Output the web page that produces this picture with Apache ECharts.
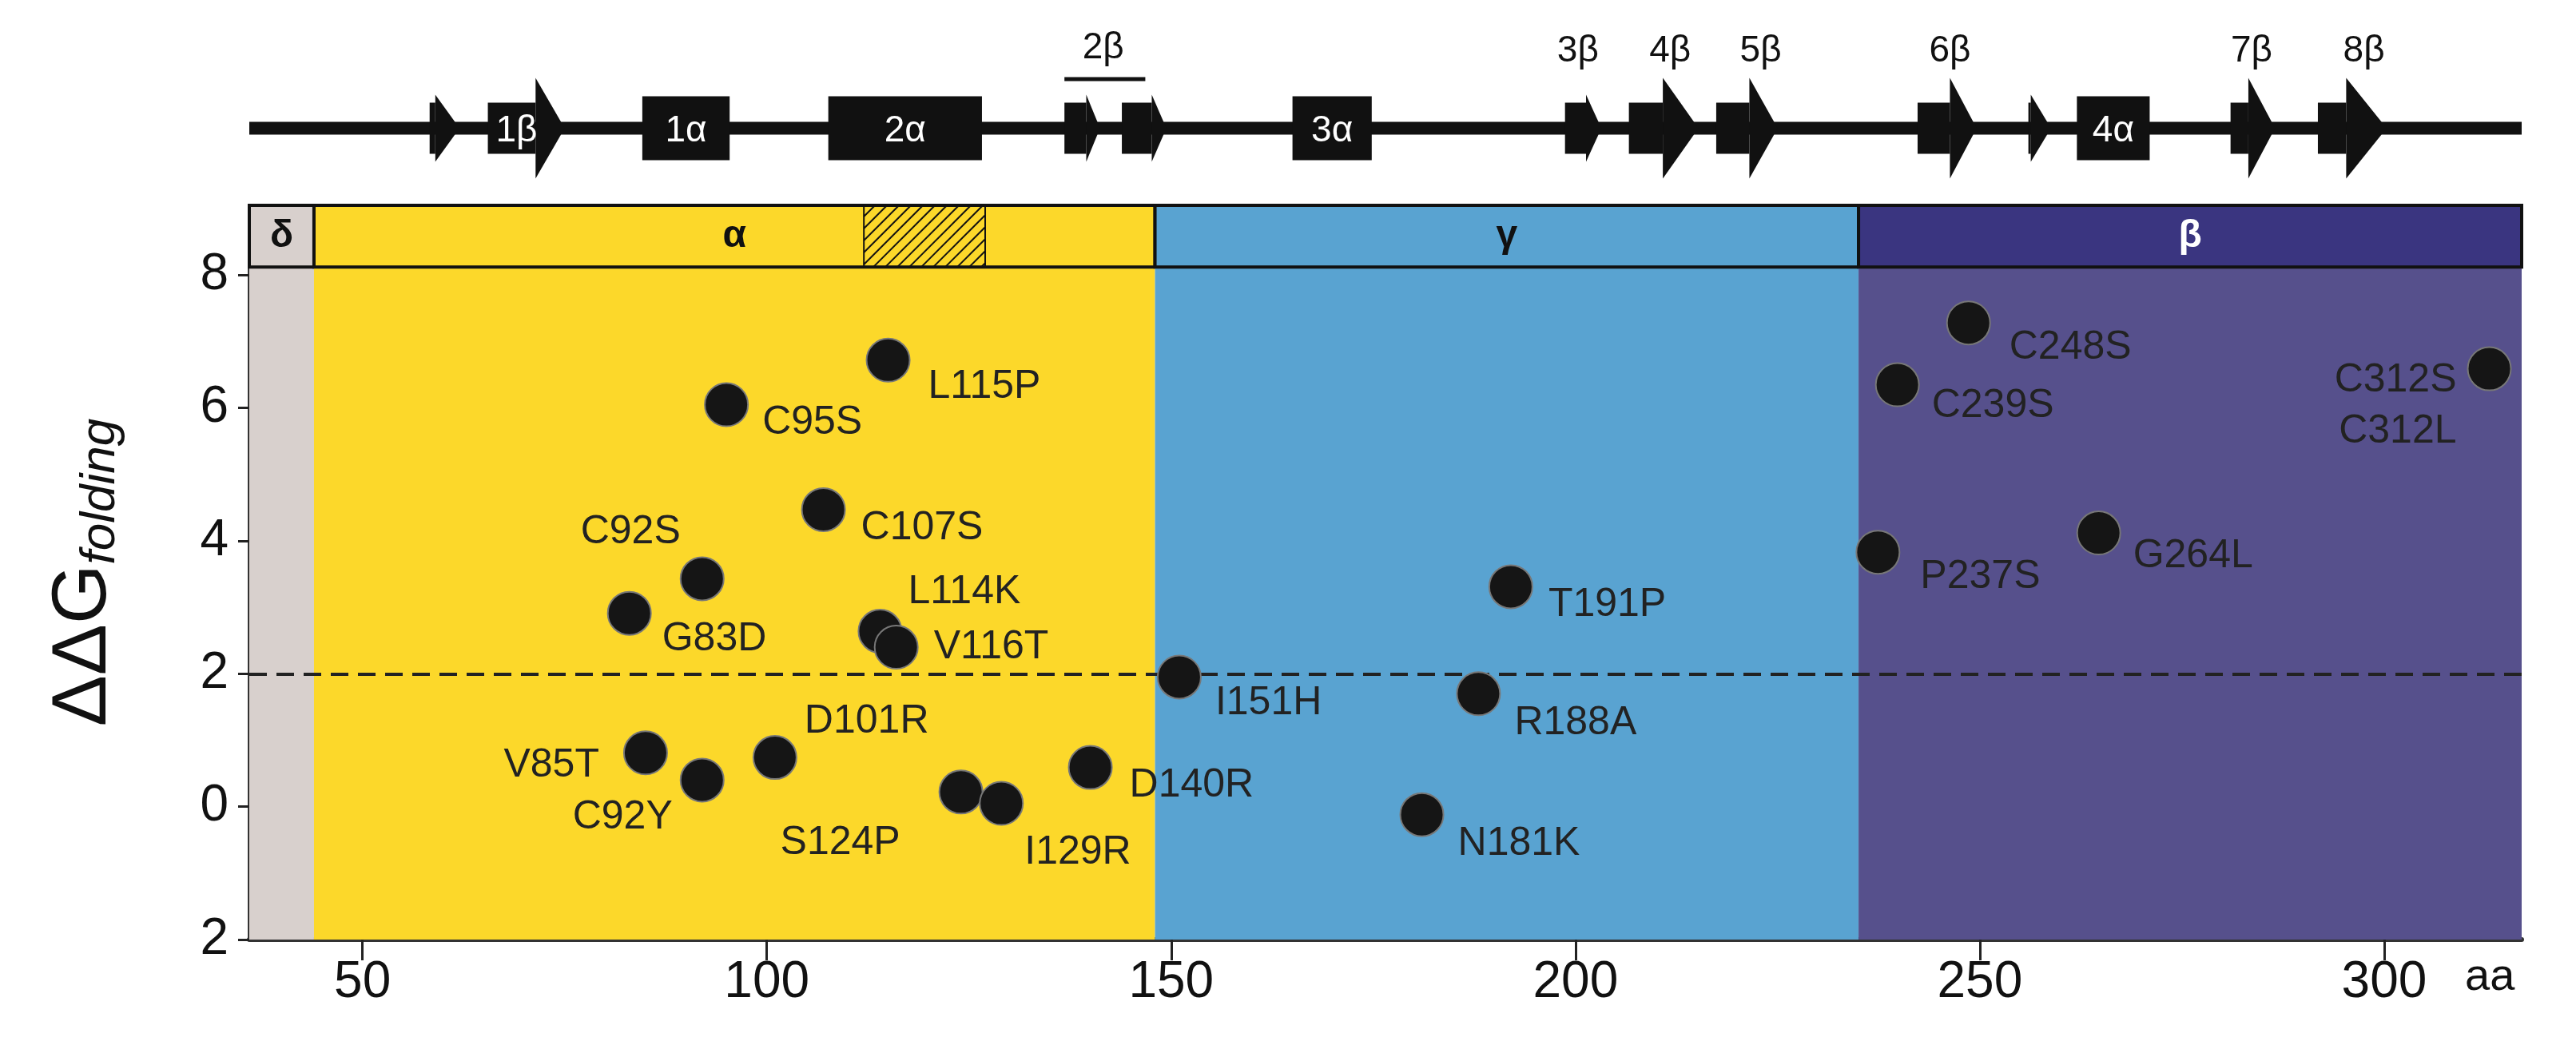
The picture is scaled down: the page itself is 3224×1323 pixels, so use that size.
<!DOCTYPE html>
<html><head><meta charset="utf-8">
<script src="https://cdn.jsdelivr.net/npm/echarts@6/dist/echarts.min.js"></script>
<style>html,body{margin:0;padding:0;background:#fff}#c{width:3224px;height:1323px}</style>
</head><body><div id="c"></div>
<script>
// ---- data ----
const mutNames = ['L115P','C95S','C107S','C92S','G83D','L114K','V116T','V85T','C92Y','D101R','S124P','I129R','D140R','I151H','R188A','T191P','N181K','C248S','C239S','C312S\nC312L','P237S','G264L'];
const mutX = [115,95,107,92,83,114,116,85,92,101,124,129,140,151,188,192,181,248.6,239.8,313,237.4,264.7];
const mutY = [6.72,6.05,4.47,3.43,2.91,2.64,2.40,0.81,0.40,0.74,0.22,0.05,0.59,1.95,1.70,3.31,-0.12,7.28,6.35,6.59,3.83,4.12];
const domainNames = ['δ','α','γ','β'];
const domainStart = [36,44,148,235];
const domainEnd = [44,148,235,317];
const hatchRange = [112,127];
const threshold = 2;
const xTicks = [50,100,150,200,250,300];
const xMinorTicks = [40,60,70,80,90,110,120,130,140,160,170,180,190,210,220,230,240,260,270,280,290,310];
const yTicks = [-2,0,2,4,6,8];
// secondary structure: type, start, headStart, end, label
const ssType  = ['s','s','h','h','s','s','h','s','s','s','s','s','h','s','s'];
const ssStart = [58.3,65.5,84.6,107.6,136.8,143.9,165,198.7,206.6,217.4,242.3,256,262,281,291.8];
const ssHead  = [59,71.4,0,0,139.5,147.6,0,201.3,210.8,221.5,246.3,256.3,0,283.2,295.3];
const ssEnd   = [62,75,95.4,126.6,141.2,149.4,174.8,203.2,215.2,225,249.6,258.8,271,286.5,300.3];
const ssLabel = ['','1β','1α','2α','','','3α','','','','','','4α','',''];
const ssBig   = [0,1,0,0,0,0,0,0,1,1,1,0,0,1,1];
const topLabels = ['2β','3β','4β','5β','6β','7β','8β'];
const topLabelX = [141.6,200.3,211.7,222.9,246.3,283.6,297.5];

// ---- style ----
const domainFill = ['#d8d0cd','#fcd82a','#59a3d1','#56508c'];
const barFill = ['#d8d0cd','#fcd82a','#59a3d1','#3a3580'];
const barText = ['#111','#111','#111','#fff'];
const labelDx = [50,45,47,-27,41,35,47,-58,-37,37,-76,29,49,45,45,47,45,51,43,-41,53,43];
const labelDy = [33,23,23,-58,33,-49,0,16,47,-45,64,62,23,33,37,23,37,31,27,47,31,29];
const FONT = 'Liberation Sans, Arial, sans-serif';
const BAR_LO = 8.12, YMAX = 9.05;

const chart = echarts.init(document.getElementById('c'));
const gridL = 312, gridR = 3224-3156;

function bgRender(params, api){
  const i = api.value(0);
  const s = api.value(1), e = api.value(2);
  const p0 = api.coord([s, BAR_LO]), p1 = api.coord([e, -2]);
  const t0 = api.coord([s, YMAX]);
  const children = [
    {type:'rect', shape:{x:p0[0], y:p0[1], width:p1[0]-p0[0], height:p1[1]-p0[1]}, style:{fill:domainFill[i]}},
    {type:'rect', shape:{x:t0[0], y:t0[1], width:p1[0]-p0[0], height:p0[1]-t0[1]}, style:{fill:barFill[i], stroke:'#111', lineWidth:4}},
    {type:'text', style:{x:(p0[0]+p1[0])/2, y:(t0[1]+p0[1])/2, text:domainNames[i], fill:barText[i], font:'bold 48px '+FONT, align:'center', verticalAlign:'middle'}}
  ];
  if (i === 1){
    const a = api.coord([hatchRange[0], YMAX]), b = api.coord([hatchRange[1], BAR_LO]);
    const x0=a[0], y0=a[1], x1=b[0], y1=b[1];
    children.splice(2,0,{type:'rect', shape:{x:x0,y:y0,width:x1-x0,height:y1-y0}, style:{fill:'none', stroke:'#111', lineWidth:2}});
    for (let c = x0+y0+14; c < x1+y1; c += 15){
      const pa = Math.max(x0, c-y1), pb = Math.min(x1, c-y0);
      if (pb > pa) children.push({type:'line', shape:{x1:pa,y1:c-pa,x2:pb,y2:c-pb}, style:{stroke:'#111', lineWidth:2}});
    }
  }
  return {type:'group', children};
}

function ptRender(params, api){
  const i = api.value(0);
  const p = api.coord([api.value(1), api.value(2)]);
  const dx = labelDx[i], dy = labelDy[i];
  return {type:'group', children:[
    {type:'circle', shape:{cx:p[0], cy:p[1], r:27}, style:{fill:'#151515', stroke:'#777', lineWidth:2}},
    {type:'text', style:{x:p[0]+dx, y:p[1]+dy, text:mutNames[i], fill:'#222', font:'50px '+FONT, align: dx<0?'right':'left', verticalAlign:'middle', lineHeight:64}}
  ]};
}

function ssRender(params, api){
  const i = api.value(0);
  const c = api.coord([ssStart[i], 0])[1];
  const xs = api.coord([ssStart[i],0])[0], xe = api.coord([ssEnd[i],0])[0];
  const ch = [];
  if (ssType[i] === 'h'){
    ch.push({type:'rect', shape:{x:xs, y:c-40, width:xe-xs, height:80}, style:{fill:'#111'}});
  } else {
    const xh = api.coord([ssHead[i],0])[0];
    const hh = ssBig[i] ? 63 : 42;
    ch.push({type:'rect', shape:{x:xs, y:c-32, width:xh-xs, height:64}, style:{fill:'#111'}});
    ch.push({type:'polygon', shape:{points:[[xh,c-hh],[xe,c],[xh,c+hh]]}, style:{fill:'#111'}});
  }
  if (ssLabel[i]) {
    const lx = ssType[i]==='h' ? (xs+xe)/2 : (xs + api.coord([ssHead[i],0])[0])/2 + 6;
    ch.push({type:'text', style:{x:lx, y:c+4, text:ssLabel[i], fill:'#fff', font:'46px '+FONT, align:'center', verticalAlign:'middle'}});
  }
  return {type:'group', children:ch};
}

function lineRender(params, api){
  const a = api.coord([36,0]), b = api.coord([317,0]);
  return {type:'rect', shape:{x:a[0], y:a[1]-8, width:b[0]-a[0], height:16}, style:{fill:'#111'}};
}
function topLabelRender(params, api){
  const i = api.value(0);
  const p = api.coord([topLabelX[i], 0]);
  const ch = [{type:'text', style:{x:p[0], y:p[1]-96, text:topLabels[i], fill:'#111', font:'46px '+FONT, align:'center', verticalAlign:'middle'}}];
  if (i === 0){
    const a = api.coord([136.8,0])[0], b = api.coord([146.8,0])[0];
    ch[0].style.y = p[1]-100;
    ch.push({type:'rect', shape:{x:a, y:p[1]-64, width:b-a, height:5}, style:{fill:'#111'}});
  }
  return {type:'group', children:ch};
}

const idx = n => Array.from({length:n}, (_, i) => i);

chart.setOption({
  animation:false,
  backgroundColor:'#fff',
  grid:[
    {left:gridL, right:gridR, top:257, bottom:1323-1176},
    {left:gridL, right:gridR, top:97, height:127}
  ],
  xAxis:[
    {gridIndex:0, type:'value', min:36, max:317, position:'bottom',
     axisLine:{onZero:false, lineStyle:{color:'#333', width:6}},
     axisTick:{customValues:xTicks, length:26, lineStyle:{color:'#222', width:3}},
     axisLabel:{customValues:xTicks, fontSize:64, fontFamily:FONT, color:'#111', margin:22},
     splitLine:{show:false}},
    {gridIndex:0, type:'value', min:36, max:317, position:'bottom',
     axisLine:{show:false},
     axisTick:{customValues:xMinorTicks, length:15, lineStyle:{color:'#222', width:3}},
     axisLabel:{show:false}, splitLine:{show:false}},
    {gridIndex:1, type:'value', min:36, max:317, show:false}
  ],
  yAxis:[
    {gridIndex:0, type:'value', min:-2, max:YMAX,
     axisLine:{show:true, lineStyle:{color:'#333', width:4}},
     axisTick:{customValues:yTicks, length:14, lineStyle:{color:'#222', width:3}},
     axisLabel:{customValues:yTicks, fontSize:64, fontFamily:FONT, color:'#111', margin:26, formatter:v=>String(Math.abs(v))},
     splitLine:{show:false},
     name:'{a|ΔΔG}{b|folding}', nameLocation:'middle', nameGap:155, nameRotate:90,
     nameTextStyle:{rich:{
       a:{fontSize:96, fontFamily:FONT, color:'#111'},
       b:{fontSize:62, fontFamily:FONT, fontStyle:'italic', color:'#111', padding:[40,0,0,0]}
     }}},
    {gridIndex:1, type:'value', min:-1, max:1, show:false}
  ],
  series:[
    {type:'custom', xAxisIndex:0, yAxisIndex:0, renderItem:bgRender, clip:false, z:1,
     data: idx(domainNames.length).map(i=>[i, domainStart[i], domainEnd[i]]),
     markLine:{silent:true, symbol:'none', label:{show:false},
       lineStyle:{color:'#222', type:[22,12], width:4}, data:[{yAxis:threshold}]}},
    {type:'custom', xAxisIndex:0, yAxisIndex:0, renderItem:ptRender, clip:false, z:5,
     data: idx(mutNames.length).map(i=>[i, mutX[i], mutY[i]])},
    {type:'custom', xAxisIndex:2, yAxisIndex:1, renderItem:lineRender, clip:false, data:[[0]]},
    {type:'custom', xAxisIndex:2, yAxisIndex:1, renderItem:ssRender, clip:false, z:3,
     data: idx(ssType.length).map(i=>[i])},
    {type:'custom', xAxisIndex:2, yAxisIndex:1, renderItem:topLabelRender, clip:false,
     data: idx(topLabels.length).map(i=>[i])}
  ],
  graphic:[{type:'text', left:3085, top:1196, style:{text:'aa', font:'56px '+FONT, fill:'#111'}}]
});
</script></body></html>
